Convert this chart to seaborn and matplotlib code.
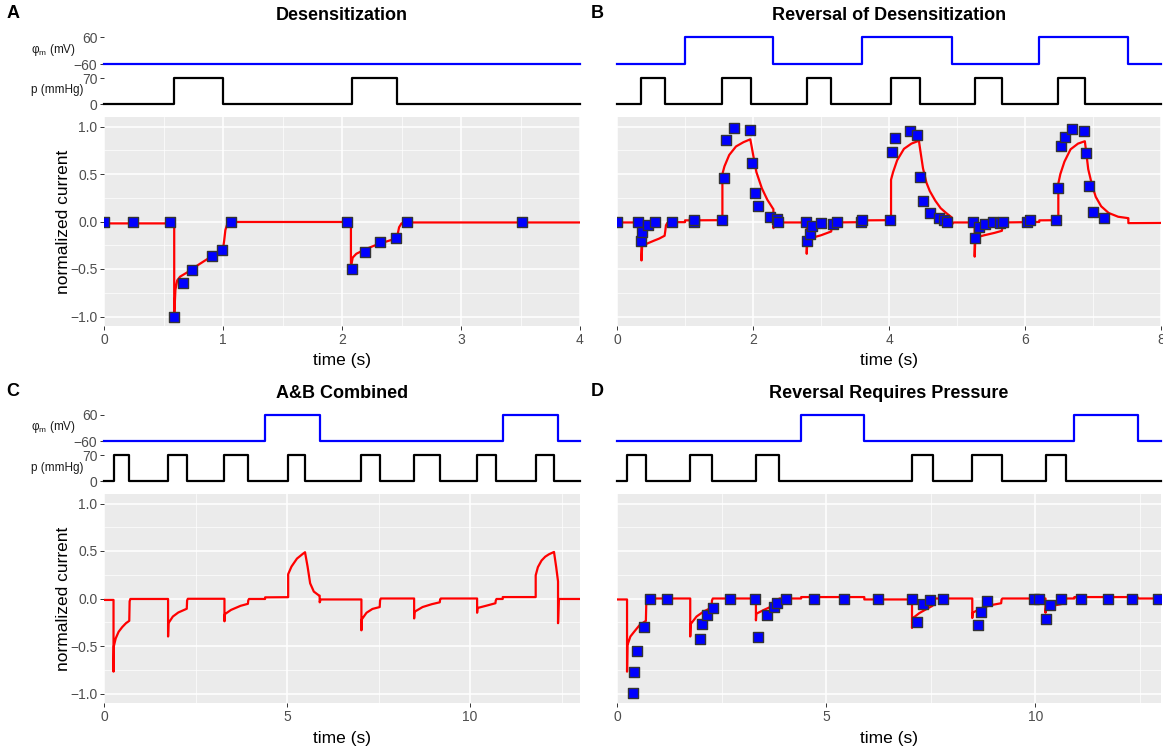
import matplotlib
matplotlib.use("Agg")
import matplotlib.pyplot as plt
import seaborn as sns

# ---------------- data ----------------
# Panel A: Desensitization
A_v_t = [0.0, 4.0]
A_v = [-60, -60]
A_p_t = [0.0, 0.59, 1.0, 2.08, 2.46, 4.0]
A_p = [0, 70, 0, 70, 0, 0]
A_model_t = [0.0, 0.59, 0.59, 0.60, 0.615, 0.64, 0.70, 0.80, 0.90, 1.00, 1.01, 1.02, 1.035, 1.06, 1.10,
             2.075, 2.075, 2.09, 2.12, 2.20, 2.30, 2.40, 2.46, 2.47, 2.48, 2.50, 2.54, 4.0]
A_model_y = [-0.02, -0.02, -1.0, -0.72, -0.62, -0.58, -0.535, -0.45, -0.37, -0.29, -0.20, -0.09, -0.03, -0.012, -0.005,
             -0.005, -0.48, -0.38, -0.34, -0.29, -0.24, -0.2, -0.18, -0.12, -0.06, -0.02, -0.01, -0.01]
A_obs_t = [0.0, 0.247, 0.556, 0.591, 0.664, 0.74, 0.904, 0.993, 1.066, 2.04, 2.084, 2.19, 2.318, 2.454, 2.545, 3.51]
A_obs_y = [0.0, 0.0, 0.0, -1.0, -0.65, -0.506, -0.36, -0.30, 0.0, 0.0, -0.5, -0.325, -0.216, -0.178, -0.01, -0.007]

# Panel B: Reversal of Desensitization
B_v_t = [0.0, 1.0, 2.3, 3.61, 4.92, 6.21, 7.52, 8.0]
B_v = [-60, 60, -60, 60, -60, 60, -60, -60]
B_p_t = [0.0, 0.36, 0.71, 1.55, 1.97, 2.79, 3.15, 4.03, 4.46, 5.26, 5.66, 6.49, 6.88, 8.0]
B_p = [0, 70, 0, 70, 0, 70, 0, 70, 0, 70, 0, 70, 0, 0]
B_model_t = [0.0, 0.36, 0.36, 0.37, 0.45, 0.55, 0.62, 0.70, 0.71, 0.72, 0.74, 0.78, 1.00, 1.00, 1.55, 1.55,
             1.58, 1.65, 1.75, 1.86, 1.96, 1.98, 2.00, 2.05, 2.13, 2.21, 2.29, 2.30, 2.30, 2.32, 2.79, 2.79,
             2.80, 2.90, 3.00, 3.15, 3.16, 3.19, 3.61, 3.61, 4.03, 4.03, 4.06, 4.12, 4.22, 4.33, 4.44, 4.46,
             4.50, 4.55, 4.60, 4.68, 4.76, 4.84, 4.91, 4.92, 4.92, 4.95, 5.26, 5.26, 5.27, 5.40, 5.55, 5.66,
             5.67, 5.70, 6.21, 6.21, 6.49, 6.49, 6.52, 6.58, 6.67, 6.78, 6.88, 6.90, 6.93, 6.98, 7.04, 7.12,
             7.23, 7.37, 7.51, 7.52, 7.52, 8.0]
B_model_y = [-0.01, -0.01, -0.41, -0.26, -0.23, -0.20, -0.18, -0.15, -0.10, -0.04, -0.015, -0.007, -0.007, 0.012, 0.014, 0.50,
             0.58, 0.70, 0.79, 0.835, 0.865, 0.79, 0.71, 0.52, 0.35, 0.23, 0.14, 0.13, -0.07, -0.01, -0.01, -0.34,
             -0.19, -0.165, -0.145, -0.105, -0.05, -0.01, -0.007, 0.012, 0.014, 0.44, 0.52, 0.645, 0.765, 0.82, 0.85, 0.75,
             0.56, 0.41, 0.32, 0.22, 0.14, 0.09, 0.05, 0.045, -0.035, -0.01, -0.01, -0.37, -0.17, -0.145, -0.12, -0.098,
             -0.05, -0.01, -0.005, 0.012, 0.014, 0.40, 0.50, 0.63, 0.76, 0.82, 0.845, 0.73, 0.55, 0.40, 0.26, 0.16,
             0.09, 0.05, 0.036, 0.035, -0.017, -0.015]
B_obs_t = [0.0, 0.306, 0.354, 0.37, 0.45, 0.553, 0.816, 1.128, 1.128, 1.54, 1.573, 1.61, 1.718, 1.954, 1.98,
           2.024, 2.078, 2.25, 2.357, 2.373, 2.78, 2.797, 2.835, 2.87, 3.007, 3.18, 3.238, 3.59, 3.608, 4.02,
           4.04, 4.09, 4.31, 4.41, 4.456, 4.505, 4.596, 4.736, 4.816, 4.848, 5.24, 5.26, 5.33, 5.417, 5.535,
           5.632, 5.68, 6.03, 6.067, 6.46, 6.49, 6.523, 6.59, 6.685, 6.867, 6.89, 6.937, 7.007, 7.168]
B_obs_y = [0.0, 0.0, -0.21, -0.11, -0.035, -0.01, 0.0, 0.0, 0.017, 0.017, 0.46, 0.854, 0.983, 0.962, 0.62,
           0.303, 0.16, 0.045, 0.031, -0.007, 0.0, -0.2, -0.13, -0.052, -0.017, -0.024, 0.0, 0.0, 0.017, 0.017,
           0.735, 0.875, 0.948, 0.913, 0.47, 0.216, 0.087, 0.035, 0.017, -0.007, -0.007, -0.17, -0.063, -0.028, -0.007,
           -0.02, 0.0, 0.0, 0.017, 0.014, 0.352, 0.794, 0.889, 0.969, 0.948, 0.725, 0.373, 0.105, 0.038]

# Panel C: A&B Combined (model only)
C_v_t = [0.0, 4.40, 5.89, 10.89, 12.40, 13.0]
C_v = [-60, 60, -60, 60, -60, -60]
C_p_t = [0.0, 0.26, 0.69, 1.75, 2.27, 3.29, 3.94, 5.03, 5.49, 7.03, 7.54, 8.47, 9.18, 10.19, 10.70, 11.79, 12.30, 13.0]
C_p = [0, 70, 0, 70, 0, 70, 0, 70, 0, 70, 0, 70, 0, 70, 0, 70, 0, 0]
C_model_t = [0.0, 0.26, 0.26, 0.27, 0.32, 0.40, 0.50, 0.60, 0.69, 0.70, 0.72, 1.75, 1.75, 1.76, 1.88, 2.03,
             2.26, 2.27, 2.29, 3.29, 3.29, 3.30, 3.47, 3.73, 3.93, 3.94, 3.96, 4.40, 4.40, 5.03, 5.03, 5.12,
             5.27, 5.43, 5.49, 5.56, 5.63, 5.73, 5.86, 5.89, 5.89, 5.92, 7.03, 7.03, 7.04, 7.17, 7.33, 7.53,
             7.54, 7.56, 8.47, 8.47, 8.48, 8.70, 8.95, 9.17, 9.18, 9.20, 10.19, 10.19, 10.20, 10.45, 10.69, 10.70,
             10.72, 10.89, 10.89, 11.79, 11.79, 11.85, 11.95, 12.05, 12.15, 12.29, 12.35, 12.40, 12.40, 12.42, 13.0]
C_model_y = [-0.015, -0.015, -0.77, -0.50, -0.42, -0.35, -0.30, -0.26, -0.235, -0.03, -0.005, -0.005, -0.40, -0.26, -0.19, -0.147,
             -0.108, -0.02, -0.003, -0.003, -0.24, -0.165, -0.12, -0.077, -0.056, -0.02, -0.005, -0.005, 0.012, 0.014, 0.256, 0.336,
             0.42, 0.47, 0.487, 0.336, 0.16, 0.073, 0.035, 0.03, -0.04, -0.01, -0.01, -0.335, -0.22, -0.15, -0.11, -0.09,
             -0.02, 0.0, 0.0, -0.21, -0.14, -0.09, -0.06, -0.04, -0.01, 0.0, 0.0, -0.15, -0.10, -0.075, -0.05, -0.02,
             -0.005, -0.005, 0.015, 0.015, 0.244, 0.33, 0.40, 0.44, 0.465, 0.49, 0.33, 0.18, -0.26, -0.005, -0.005]

# Panel D: Reversal Requires Pressure
D_v_t = [0.0, 4.40, 5.91, 10.93, 12.44, 13.0]
D_v = [-60, 60, -60, 60, -60, -60]
D_p_t = [0.0, 0.25, 0.70, 1.75, 2.27, 3.32, 3.86, 7.05, 7.55, 8.49, 9.19, 10.24, 10.73, 13.0]
D_p = [0, 70, 0, 70, 0, 70, 0, 70, 0, 70, 0, 70, 0, 0]
D_model_t = [0.0, 0.24, 0.24, 0.25, 0.32, 0.41, 0.54, 0.69, 0.70, 0.72, 1.75, 1.75, 1.76, 1.90, 2.07, 2.26,
             2.27, 2.29, 3.32, 3.32, 3.33, 3.51, 3.69, 3.85, 3.86, 3.88, 4.40, 4.40, 5.91, 5.91, 7.05, 7.05,
             7.06, 7.22, 7.40, 7.54, 7.55, 7.57, 8.49, 8.49, 8.50, 8.71, 8.97, 9.18, 9.19, 9.21, 10.24, 10.24,
             10.25, 10.45, 10.72, 10.73, 10.75, 10.93, 10.93, 12.44, 12.44, 13.0]
D_model_y = [-0.01, -0.01, -0.77, -0.49, -0.40, -0.35, -0.28, -0.235, -0.05, 0.0, 0.0, -0.40, -0.27, -0.19, -0.137, -0.095,
             -0.02, 0.0, 0.0, -0.23, -0.16, -0.12, -0.084, -0.056, -0.02, 0.0, 0.0, 0.015, 0.015, -0.01, -0.01, -0.31,
             -0.21, -0.155, -0.11, -0.077, -0.02, 0.0, 0.0, -0.205, -0.15, -0.10, -0.067, -0.05, -0.01, 0.0, 0.0, -0.15,
             -0.10, -0.073, -0.05, -0.01, 0.0, 0.0, 0.015, 0.015, 0.0, 0.0]
D_obs_t = [0.376, 0.41, 0.48, 0.638, 0.786, 1.19, 1.98, 2.04, 2.15, 2.29, 2.70, 3.29, 3.38, 3.58, 3.75, 3.83,
           4.03, 4.71, 5.43, 6.24, 7.05, 7.18, 7.31, 7.47, 7.79, 8.62, 8.70, 8.83, 9.97, 10.09, 10.26, 10.35,
           10.60, 11.08, 11.73, 12.30, 12.92]
D_obs_y = [-0.997, -0.777, -0.55, -0.305, 0.0, 0.0, -0.43, -0.266, -0.17, -0.10, 0.0, 0.0, -0.40, -0.17, -0.09, -0.05,
           0.0, 0.0, 0.0, 0.0, 0.0, -0.245, -0.063, -0.017, 0.0, -0.28, -0.14, -0.03, 0.0, 0.0, -0.217, -0.066,
           0.0, 0.0, 0.0, 0.0, 0.0]

titles = ["Desensitization", "Reversal of Desensitization", "A&B Combined", "Reversal Requires Pressure"]
letters = ["A", "B", "C", "D"]
x_max = [4, 8, 13, 13]
x_major = [[0, 1, 2, 3, 4], [0, 2, 4, 6, 8], [0, 5, 10], [0, 5, 10]]
x_minor = [[0.5, 1.5, 2.5, 3.5], [1, 3, 5, 7], [2.5, 7.5, 12.5], [2.5, 7.5, 12.5]]
y_major = [-1.0, -0.5, 0.0, 0.5, 1.0]
y_major_labels = ["\u22121.0", "\u22120.5", "0.0", "0.5", "1.0"]
y_minor = [-0.75, -0.25, 0.25, 0.75]
v_ticks = [-60, 60]
v_tick_labels = ["\u221260", "60"]
p_ticks = [0, 70]
p_tick_labels = ["0", "70"]

# ---------------- style ----------------
plt.rcParams.update({
    "font.family": ["Liberation Sans", "DejaVu Sans"],
    "mathtext.fontset": "custom",
    "mathtext.rm": "Liberation Sans",
    "mathtext.it": "Liberation Sans:italic",
    "xtick.color": "#333333",
    "ytick.color": "#333333",
    "xtick.labelcolor": "#4D4D4D",
    "ytick.labelcolor": "#4D4D4D",
    "xtick.major.size": 2.8,
    "ytick.major.size": 2.8,
    "xtick.major.width": 0.7,
    "ytick.major.width": 0.7,
    "xtick.major.pad": 2.0,
    "ytick.major.pad": 2.0,
    "xtick.labelsize": 10,
    "ytick.labelsize": 10,
})

W, H = 1163, 749
fig = plt.figure(figsize=(W / 100, H / 100), dpi=100)


def px_axes(x0, x1, y0, y1):
    return fig.add_axes([x0 / W, 1 - y1 / H, (x1 - x0) / W, (y1 - y0) / H])


def strip_span(hi_px, lo_px, hi, lo, lim_lo, lim_hi):
    s = (lo_px - hi_px) / (hi - lo)
    return hi_px - (lim_hi - hi) * s, lo_px + (lo - lim_lo) * s


data = [
    (A_v_t, A_v, A_p_t, A_p, A_model_t, A_model_y, A_obs_t, A_obs_y),
    (B_v_t, B_v, B_p_t, B_p, B_model_t, B_model_y, B_obs_t, B_obs_y),
    (C_v_t, C_v, C_p_t, C_p, C_model_t, C_model_y, None, None),
    (D_v_t, D_v, D_p_t, D_p, D_model_t, D_model_y, D_obs_t, D_obs_y),
]

cols = [(104, 580), (617, 1161)]
LW = 1.6

for i in range(4):
    col, row = i % 2, i // 2
    x0, x1 = cols[col]
    off = 377 * row
    left = col == 0
    v_t, v, p_t, p, m_t, m_y, o_t, o_y = data[i]
    xmax = x_max[i]

    # voltage strip
    t_, b_ = strip_span(37.5 + off, 64 + off, 60, -60, -66, 66)
    axv = px_axes(x0, x1, t_, b_)
    sns.lineplot(x=v_t, y=v, ax=axv, color="#0000FF", linewidth=LW, drawstyle="steps-post",
                 estimator=None, sort=False, legend=False)
    axv.set_ylim(-66, 66)
    # pressure strip
    t_, b_ = strip_span(78 + off, 104 + off, 70, 0, -3.5, 73.5)
    axp = px_axes(x0, x1, t_, b_)
    sns.lineplot(x=p_t, y=p, ax=axp, color="#000000", linewidth=LW, drawstyle="steps-post",
                 estimator=None, sort=False, legend=False)
    axp.set_ylim(-3.5, 73.5)
    for ax, tks, tls in ((axv, v_ticks, v_tick_labels), (axp, p_ticks, p_tick_labels)):
        ax.set_xlim(0, xmax)
        ax.set_facecolor("white")
        for s in ax.spines.values():
            s.set_visible(False)
        ax.set_xticks([])
        ax.set_xlabel("")
        ax.set_ylabel("")
        if left:
            ax.set_yticks(tks)
            ax.set_yticklabels(tls)
        else:
            ax.set_yticks([])
        for ln in ax.lines:
            ln.set_clip_on(False)

    if left:
        fig.text(53 / W, 1 - (50 + off) / H, r"φ$_\mathrm{m}$ (mV)", ha="center", va="center",
                 fontsize=8.5, color="#1A1A1A")
        fig.text(57 / W, 1 - (90.5 + off) / H, "p (mmHg)", ha="center", va="center",
                 fontsize=8.5, color="#1A1A1A")

    # current panel
    axc = px_axes(x0, x1, 117 + off, 326 + off)
    axc.set_facecolor("#EBEBEB")
    for s in axc.spines.values():
        s.set_visible(False)
    axc.set_axisbelow(True)
    sns.lineplot(x=m_t, y=m_y, ax=axc, color="#FF0000", linewidth=LW, estimator=None,
                 sort=False, legend=False, zorder=2)
    if o_t is not None:
        sns.scatterplot(x=o_t, y=o_y, ax=axc, marker="s", s=58, color="#0000FF",
                        edgecolor="#333333", linewidth=1.0, legend=False, zorder=3)
    axc.set_xlim(0, xmax)
    axc.set_ylim(-1.1, 1.1)
    axc.set_xticks(x_major[i])
    axc.set_xticklabels([str(t) for t in x_major[i]])
    axc.set_xticks(x_minor[i], minor=True)
    axc.set_yticks(y_major)
    axc.set_yticks(y_minor, minor=True)
    if left:
        axc.set_yticklabels(y_major_labels)
        axc.set_ylabel("normalized current", fontsize=12.5, color="#000000")
        axc.yaxis.set_label_coords((64 - x0) / (x1 - x0), 0.5)
        axc.yaxis.label.set_va("center")
    else:
        axc.set_yticklabels([])
        axc.tick_params(axis="y", which="major", length=0)
        axc.set_ylabel("")
    axc.tick_params(which="minor", length=0)
    axc.grid(which="major", color="white", linewidth=1.1)
    axc.grid(which="minor", color="white", linewidth=0.5)
    axc.set_xlabel("time (s)", fontsize=12.5, color="#000000")
    axc.xaxis.set_label_coords(0.5, -(361 - 326) / 209)
    axc.xaxis.label.set_va("center")

    # title + letter
    fig.text(((x0 + x1) / 2) / W, 1 - (16 + off) / H, titles[i], ha="center", va="center",
             fontsize=13, fontweight="bold")
    lx = 13 if left else 597
    fig.text(lx / W, 1 - (14 + off) / H, letters[i], ha="center", va="center",
             fontsize=13, fontweight="bold")

fig.savefig("out.png", dpi=100)
